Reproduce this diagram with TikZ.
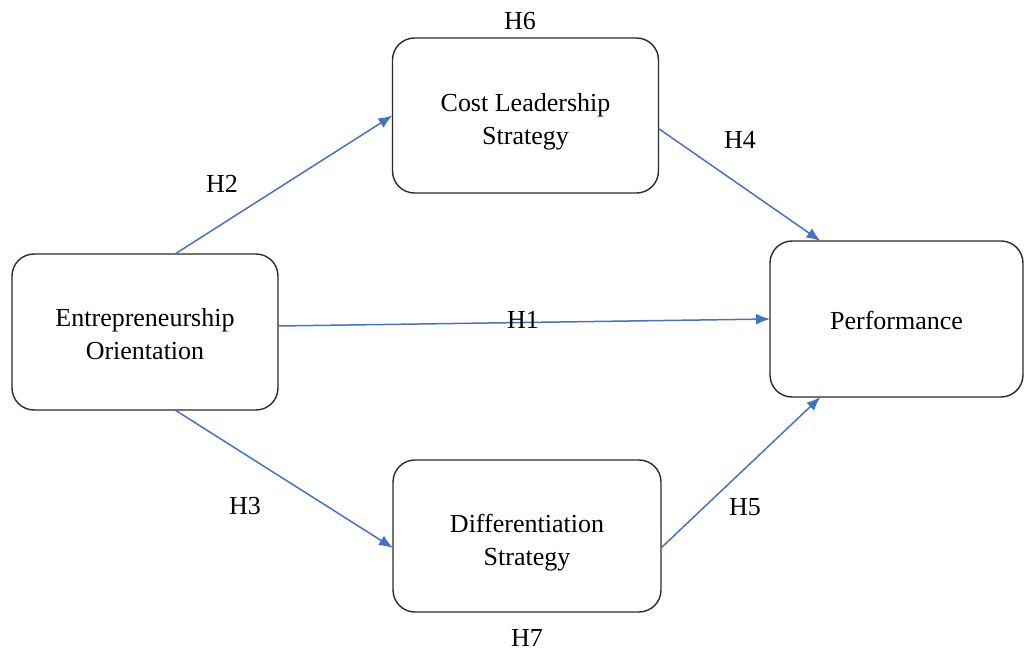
\documentclass[tikz,border=0pt]{standalone}
\usepackage{fontspec}
\setmainfont{Liberation Serif}
\usetikzlibrary{arrows.meta}
\definecolor{arrowblue}{HTML}{4472C4}
\definecolor{boxline}{HTML}{2B2B2B}
\newcommand\lowtext[2]{\raisebox{-#1}[\height][\depth]{\begin{tabular}{@{}c@{}}#2\end{tabular}}}
\tikzset{
  box/.style={draw=boxline, line width=0.7pt, rounded corners=11pt, fill=white,
    align=center, inner sep=0pt, outer sep=0pt,
    font=\fontsize{13}{16.5}\selectfont},
  hlabel/.style={inner sep=0pt, font=\fontsize{13}{16}\selectfont},
  link/.style={draw=arrowblue, line width=0.75pt, -{Latex[length=7pt,width=5.5pt]}}
}
\begin{document}
\begin{tikzpicture}[x=0.5pt,y=-0.5pt]
\useasboundingbox (0,0) rectangle (1025,653);
\node[box, minimum width=133pt, minimum height=78pt] (eo) at (145,332) {\lowtext{2pt}{Entrepreneurship\\Orientation}};
\node[box, minimum width=133pt, minimum height=77.5pt] (cost) at (525.5,115.5) {\lowtext{3pt}{Cost Leadership\\Strategy}};
\node[box, minimum width=134pt, minimum height=76pt] (diff) at (527,536) {\lowtext{3pt}{Differentiation\\Strategy}};
\node[box, minimum width=126.5pt, minimum height=78pt] (perf) at (896.5,319) {\lowtext{2pt}{Performance}};

\draw[link] ([xshift=15pt]eo.north) -- (cost.west);
\draw[link] ([yshift=-6.5pt]cost.east) -- ([xshift=-38pt]perf.north);
\draw[link] ([yshift=3pt]eo.east) -- (perf.west);
\draw[link] ([xshift=15pt]eo.south) -- ([yshift=-6pt]diff.west);
\draw[link] ([yshift=-6pt]diff.east) -- ([xshift=-38pt]perf.south);

\node[hlabel] (h6) at (520,21) {H6};
\node[hlabel] (h2) at (222,184) {H2};
\node[hlabel] (h4) at (740,140) {H4};
\node[hlabel] (h1) at (523,320) {H1};
\node[hlabel] (h3) at (245,506) {H3};
\node[hlabel] (h5) at (745,507) {H5};
\node[hlabel] (h7) at (527,638) {H7};
\end{tikzpicture}
\end{document}
